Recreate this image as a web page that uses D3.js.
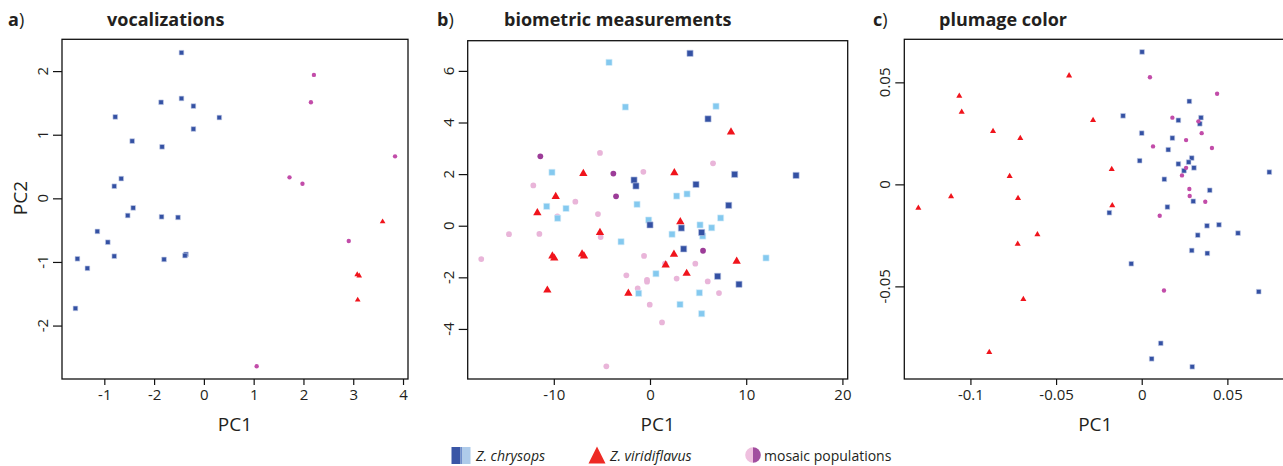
<!DOCTYPE html>
<html>
<head>
<meta charset="utf-8">
<script src="https://cdn.jsdelivr.net/npm/d3@7"></script>
<style>
  body { margin: 0; background: #fff; }
  text { font-family: "Open Sans", sans-serif; fill: #231f20; }
</style>
</head>
<body>
<svg id="chart" width="1283" height="466"></svg>
<script>
// ---- data ----
// a) vocalizations
var vocChrysops = [[-0.45,2.29],[-1.78,1.28],[-0.86,1.51],[-0.45,1.57],[-0.21,1.45],[0.31,1.27],[-0.21,1.09],
  [-1.44,0.90],[-0.84,0.81],[-1.66,0.31],[-1.80,0.19],[-1.42,-0.15],[-1.53,-0.27],[-0.85,-0.29],[-0.52,-0.30],
  [-2.14,-0.52],[-1.93,-0.69],[-1.80,-0.91],[-2.54,-0.95],[-0.80,-0.96],[-0.36,-0.88],[-0.38,-0.90],
  [-2.34,-1.10],[-2.58,-1.73]];
var vocViridi = [[3.59,-0.38],[3.08,-1.21],[3.12,-1.23],[3.09,-1.61]];
var vocMosaic = [[2.21,1.94],[2.15,1.51],[3.84,0.66],[1.72,0.33],[1.98,0.23],[2.91,-0.67],[1.06,-2.64]];

// b) biometric measurements
var bioChrysopsDark = [[4.16,6.68],[6.03,4.14],[8.80,1.99],[15.18,1.95],[-1.66,1.77],[-1.46,1.54],[4.78,1.60],
  [0.0,0.03],[3.26,-0.09],[5.37,-0.26],[8.18,0.79],[3.50,-0.90],[7.03,-1.96],[9.25,-2.27]];
var bioChrysopsLight = [[-4.26,6.33],[-2.56,4.60],[6.86,4.63],[-10.19,2.07],[-10.74,0.75],[-8.73,0.67],[-9.60,0.29],
  [-1.35,0.83],[2.77,1.15],[3.85,1.23],[-0.14,0.22],[5.20,0.03],[6.41,-0.08],[7.34,0.30],[5.48,-0.40],
  [2.29,-0.33],[-3.01,-0.62],[12.06,-1.25],[0.62,-1.86],[-1.18,-2.62],[5.13,-2.60],[3.12,-3.05],[5.37,-3.41]];
var bioViridi = [[8.42,3.60],[-6.93,1.99],[2.53,2.02],[-9.80,1.10],[-11.71,0.47],[-5.20,-0.30],[3.15,0.12],
  [-10.15,-1.21],[-9.95,-1.29],[-7.06,-1.13],[-6.86,-1.21],[2.49,-1.14],[1.63,-1.56],[3.81,-1.88],[9.01,-1.41],
  [-10.67,-2.53],[-2.25,-2.65]];
var bioMosaicDark = [[-11.40,2.69],[-3.81,2.02],[-3.53,1.14],[5.51,-0.97]];
var bioMosaicLight = [[-5.20,2.82],[-0.69,2.09],[6.55,2.42],[-12.13,1.56],[-14.66,-0.33],[-11.50,-0.32],[-17.54,-1.29],
  [-7.76,0.93],[-9.63,0.36],[-5.41,0.45],[-5.13,-0.44],[-0.62,-1.17],[-2.46,-1.92],[-0.31,-2.10],[-0.31,-2.17],
  [-1.28,-2.43],[1.56,-1.47],[2.77,-2.05],[4.71,-1.47],[6.0,-2.16],[7.17,-2.61],[-0.03,-3.06],[1.25,-3.75],[-4.54,-5.45]];

// c) plumage color
var colChrysops = [[0.0002,0.0649],[0.0278,0.0407],[-0.0109,0.0336],[0.0346,0.0327],[0.0214,0.0314],[0.0339,0.0297],
  [0.0,0.0251],[0.0179,0.0227],[0.0155,0.0170],[-0.0012,0.0116],[0.0292,0.0129],[0.0274,0.0109],[0.0214,0.0100],
  [0.0305,0.0081],[0.0247,0.0067],[0.0132,0.0025],[0.0745,0.0060],[0.0397,-0.0029],[0.0301,-0.0083],[0.0150,-0.0111],
  [-0.0189,-0.0139],[0.0381,-0.0203],[0.0451,-0.0198],[0.0327,-0.0249],[0.0562,-0.0239],[0.0292,-0.0324],
  [0.0383,-0.0338],[-0.0061,-0.0389],[0.0683,-0.0526],[0.0111,-0.0779],[0.0058,-0.0855],[0.0295,-0.0894]];
var colViridi = [[-0.0424,0.0529],[-0.1065,0.0429],[-0.1051,0.0351],[-0.0868,0.0256],[-0.0709,0.0222],[-0.0284,0.0310],
  [-0.0771,0.0036],[-0.0175,0.0070],[-0.1304,-0.0120],[-0.1113,-0.0064],[-0.0722,-0.0072],[-0.0172,-0.0108],
  [-0.0609,-0.0250],[-0.0724,-0.0296],[-0.0691,-0.0567],[-0.0890,-0.0827]];
var colMosaic = [[0.0048,0.0525],[0.0440,0.0444],[0.0179,0.0327],[0.0331,0.0309],[0.0350,0.0251],[0.0259,0.0217],
  [0.0066,0.0186],[0.0410,0.0178],[0.0259,0.0081],[0.0235,0.0044],[0.0278,-0.0023],[0.0280,-0.0057],
  [0.0371,-0.0085],[0.0105,-0.0154],[0.0130,-0.0520]];

// axis limits and ticks
var vocXDomain = [-2.85, 4.1], vocYDomain = [-2.84, 2.5];
var vocXTicks = [-2, -1, 0, 1, 2, 3, 4];
var vocXTickLabels = ["-1", "-2", "0", "1", "2", "3", "4"]; // as printed in the figure
var vocYTicks = [-2, -1, 0, 1, 2];
var bioXDomain = [-18.95, 20.55], bioYDomain = [-5.94, 7.17];
var bioXTicks = [-10, 0, 10, 20];
var bioYTicks = [-4, -2, 0, 2, 4, 6];
var colXDomain = [-0.1386, 0.0844], colYDomain = [-0.0954, 0.0711];
var colXTicks = [-0.1, -0.05, 0, 0.05];
var colYTicks = [-0.05, 0, 0.05];

var legendLabels = ["Z. chrysops", "Z. viridiflavus", "mosaic populations"];

// ---- colours ----
var darkBlue = "#3451a3", lightBlue = "#84c9ef", red = "#f0141c";
var magenta = "#c24ca9", darkPurple = "#9c3c98", lightPink = "#e9b5d9";

var svg = d3.select("#chart");

function fmt(v) { return String(v).replace(/^(-?)0\./, "$10."); }

function panel(opt) {
  var x = d3.scaleLinear().domain(opt.xDomain).range([opt.left, opt.right]);
  var y = d3.scaleLinear().domain(opt.yDomain).range([opt.bottom, opt.top]);
  var g = svg.append("g");

  // panel letter + title
  var lt = g.append("text").attr("x", opt.letterX).attr("y", 26).style("font-size", "18px");
  lt.append("tspan").style("font-weight", "bold").text(opt.letter);
  lt.append("tspan").text(")");
  g.append("text").attr("x", opt.titleX).attr("y", 26)
    .style("font-size", "18px").style("font-weight", "bold").text(opt.title);

  // box
  g.append("rect").attr("x", opt.left).attr("y", opt.top)
    .attr("width", opt.right - opt.left).attr("height", opt.bottom - opt.top)
    .attr("fill", "none").attr("stroke", "#111").attr("stroke-width", 1.3);

  // x axis
  var xa = g.append("g").attr("transform", "translate(0," + opt.bottom + ")")
    .call(d3.axisBottom(x).tickValues(opt.xTicks).tickSizeOuter(0).tickSize(6).tickPadding(4)
      .tickFormat(function(d, i) { return opt.xTickLabels ? opt.xTickLabels[i] : fmt(d); }));
  xa.select(".domain").remove();
  xa.selectAll("line").attr("stroke", "#111").attr("stroke-width", 1.2);
  xa.selectAll("text").style("font-size", "15px").style("font-family", "Open Sans, sans-serif").attr("fill", "#231f20");

  // y axis with rotated labels
  var ya = g.append("g").attr("transform", "translate(" + opt.left + ",0)")
    .call(d3.axisLeft(y).tickValues(opt.yTicks).tickSizeOuter(0).tickSize(9).tickFormat(""));
  ya.select(".domain").remove();
  ya.selectAll("line").attr("stroke", "#111").attr("stroke-width", 1.2);
  g.selectAll(".ylab").data(opt.yTicks).enter().append("text")
    .attr("transform", function(d) { return "translate(" + (opt.left - 14) + "," + y(d) + ") rotate(-90)"; })
    .attr("text-anchor", "middle").style("font-size", "15px")
    .text(fmt);

  // axis titles
  g.append("text").attr("x", (opt.left + opt.right) / 2).attr("y", 431)
    .attr("text-anchor", "middle").style("font-size", "19px").text("PC1");
  if (opt.yTitle) {
    g.append("text").attr("transform", "translate(27,198) rotate(-90)")
      .attr("text-anchor", "middle").style("font-size", "19px").text(opt.yTitle);
  }

  // points
  var clip = g.append("g");
  opt.layers.forEach(function(l) {
    var sym = d3.symbol().type(l.type).size(l.size);
    clip.selectAll(null).data(l.data).enter().append("path")
      .attr("d", sym)
      .attr("transform", function(d) {
        var dy = l.type === d3.symbolTriangle ? -0.8 : 0;
        return "translate(" + x(d[0]) + "," + (y(d[1]) + dy) + ")";
      })
      .attr("fill", l.color)
      .attr("stroke", l.stroke || "none").attr("stroke-width", 0.6);
  });
}

panel({
  letter: "a", letterX: 8, title: "vocalizations", titleX: 107,
  left: 62, right: 408, top: 39.3, bottom: 379,
  xDomain: vocXDomain, yDomain: vocYDomain,
  xTicks: vocXTicks, xTickLabels: vocXTickLabels, yTicks: vocYTicks, yTitle: "PC2",
  layers: [
    { data: vocChrysops, type: d3.symbolSquare, size: 22, color: darkBlue, stroke: "#c7d0ea" },
    { data: vocMosaic, type: d3.symbolCircle, size: 15, color: magenta },
    { data: vocViridi, type: d3.symbolTriangle, size: 14, color: red }
  ]
});

panel({
  letter: "b", letterX: 437, title: "biometric measurements", titleX: 504,
  left: 467.7, right: 847.7, top: 40.7, bottom: 379,
  xDomain: bioXDomain, yDomain: bioYDomain,
  xTicks: bioXTicks, yTicks: bioYTicks,
  layers: [
    { data: bioMosaicLight, type: d3.symbolCircle, size: 26, color: lightPink },
    { data: bioChrysopsLight, type: d3.symbolSquare, size: 38, color: lightBlue, stroke: "#d8eefa" },
    { data: bioChrysopsDark, type: d3.symbolSquare, size: 38, color: darkBlue, stroke: "#b9c4e4" },
    { data: bioMosaicDark, type: d3.symbolCircle, size: 26, color: darkPurple },
    { data: bioViridi, type: d3.symbolTriangle, size: 30, color: red }
  ]
});

panel({
  letter: "c", letterX: 873, title: "plumage color", titleX: 939,
  left: 904.3, right: 1286.3, top: 39.3, bottom: 379,
  xDomain: colXDomain, yDomain: colYDomain,
  xTicks: colXTicks, yTicks: colYTicks,
  layers: [
    { data: colChrysops, type: d3.symbolSquare, size: 22, color: darkBlue, stroke: "#c7d0ea" },
    { data: colMosaic, type: d3.symbolCircle, size: 15, color: magenta },
    { data: colViridi, type: d3.symbolTriangle, size: 16, color: red }
  ]
});

// ---- legend ----
var lg = svg.append("g");
lg.append("rect").attr("x", 451.5).attr("y", 447).attr("width", 9).attr("height", 17).attr("fill", "#3a56a6");
lg.append("rect").attr("x", 460.5).attr("y", 447).attr("width", 2).attr("height", 17).attr("fill", "#6f8fcc");
lg.append("rect").attr("x", 462.5).attr("y", 447).attr("width", 8).attr("height", 17).attr("fill", "#aecbea");
lg.append("path").attr("d", "M597,446.5 L605.5,463.5 L588.5,463.5 Z").attr("fill", "#ee2a24");
var arcL = d3.arc().innerRadius(0).outerRadius(7.8).startAngle(Math.PI).endAngle(2 * Math.PI);
var arcR = d3.arc().innerRadius(0).outerRadius(7.8).startAngle(0).endAngle(Math.PI);
lg.append("path").attr("d", arcL).attr("transform", "translate(753,455)").attr("fill", "#efc0df");
lg.append("path").attr("d", arcR).attr("transform", "translate(753,455)").attr("fill", "#a24e9f");
var legX = [476, 610, 764];
legendLabels.forEach(function(t, i) {
  lg.append("text").attr("x", legX[i]).attr("y", 460.5).style("font-size", "14px")
    .style("font-style", i < 2 ? "italic" : "normal").text(t);
});
</script>
</body>
</html>
